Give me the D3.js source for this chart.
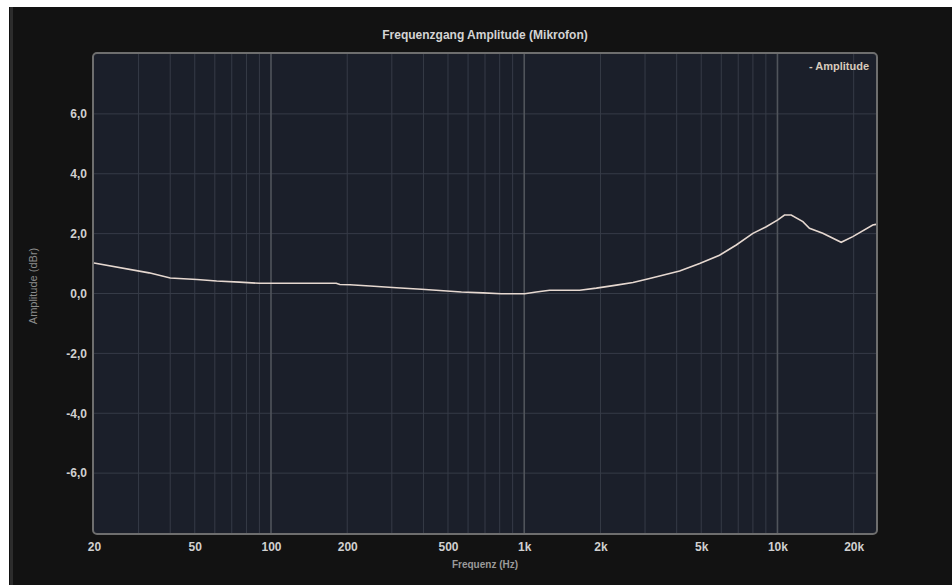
<!DOCTYPE html>
<html>
<head>
<meta charset="utf-8">
<script src="https://cdn.jsdelivr.net/npm/d3@7"></script>
<style>
  body { margin: 0; background: #fff; }
  text { font-family: "Liberation Sans", Arial, sans-serif; }
</style>
</head>
<body>
<div class="chart"></div>
<script>
// Frequency response
const freqs = [20, 33, 40, 51, 61, 75, 90, 181, 187, 205, 246, 313, 393, 464, 565, 688, 812,
  1004, 1116, 1260, 1656, 1926, 2312, 2688, 3128, 4108, 4928, 5905, 6875, 7998, 9030,
  10034, 10660, 11330, 12600, 13380, 15100, 17850, 19840, 23780, 24500]
const amps = [1.02, 0.69, 0.52, 0.47, 0.42, 0.38, 0.34, 0.34, 0.30, 0.29, 0.25, 0.19, 0.14, 0.10, 0.05, 0.02, -0.01,
  -0.01, 0.05, 0.11, 0.11, 0.18, 0.28, 0.37, 0.50, 0.75, 1.0, 1.28, 1.62, 2.01, 2.23,
  2.46, 2.62, 2.62, 2.40, 2.18, 2.01, 1.71, 1.90, 2.29, 2.31]

// Tick labels
const xTicks = [20, 50, 100, 200, 500, 1000, 2000, 5000, 10000, 20000]
const xTickLabels = ["20", "50", "100", "200", "500", "1k", "2k", "5k", "10k", "20k"]
const yTicks = [-6, -4, -2, 0, 2, 4, 6]
const majorX = [100, 1000, 10000]
const minorX = [30, 40, 50, 60, 70, 80, 90, 200, 300, 400, 500, 600, 700, 800, 900,
  2000, 3000, 4000, 5000, 6000, 7000, 8000, 9000, 20000]

const data = freqs.map((f, i) => ({f: f, a: amps[i]}))

const W = 952, H = 585
const margin = {top: 54, right: 76, bottom: 52, left: 94}
const width = W - margin.left - margin.right
const height = H - margin.top - margin.bottom

const xScale = d3.scaleLog()
  .domain([20, 24500])
  .range([0, width])

const yScale = d3.scaleLinear()
  .domain([-8, 8])
  .range([height, 0])

const svg = d3.select('.chart').append('svg')
  .attr("width", W)
  .attr("height", H)

// outer dark panel
svg.append("rect")
  .attr("x", 9).attr("y", 7)
  .attr("width", W - 9).attr("height", H - 7)
  .attr("fill", "#121212")
svg.append("line")
  .attr("x1", 11.5).attr("x2", 11.5)
  .attr("y1", 7).attr("y2", H)
  .attr("stroke", "#2c2c2c")
  .attr("stroke-width", 3)

// Title
svg.append("text")
  .attr("x", margin.left + width / 2)
  .attr("y", 39)
  .attr("text-anchor", "middle")
  .attr("font-size", 12)
  .attr("font-weight", "bold")
  .attr("fill", "#d4d4d4")
  .text("Frequenzgang Amplitude (Mikrofon)")

const g = svg.append("g")
  .attr("transform", `translate(${margin.left},${margin.top})`)

// plot background
g.append("rect")
  .attr("width", width)
  .attr("height", height)
  .attr("fill", "#1b1f2a")

// minor vertical grid
g.selectAll(".minor-x")
  .data(minorX)
  .enter()
  .append("line")
    .attr("x1", d => xScale(d)).attr("x2", d => xScale(d))
    .attr("y1", 0).attr("y2", height)
    .attr("stroke", "#363b47")
    .attr("stroke-width", 1)

// horizontal grid
g.selectAll(".grid-y")
  .data(yTicks)
  .enter()
  .append("line")
    .attr("x1", 0).attr("x2", width)
    .attr("y1", d => yScale(d)).attr("y2", d => yScale(d))
    .attr("stroke", "#363b47")
    .attr("stroke-width", 1)

// major vertical grid
g.selectAll(".major-x")
  .data(majorX)
  .enter()
  .append("line")
    .attr("x1", d => xScale(d)).attr("x2", d => xScale(d))
    .attr("y1", 0).attr("y2", height)
    .attr("stroke", "#50545b")
    .attr("stroke-width", 1.6)

// frame
g.append("rect")
  .attr("x", -1).attr("y", -1)
  .attr("width", width + 2)
  .attr("height", height + 2)
  .attr("rx", 4)
  .attr("fill", "none")
  .attr("stroke", "#6e6e6e")
  .attr("stroke-width", 2)

// Amplitude line
const line = d3.line()
  .x(d => xScale(d.f))
  .y(d => yScale(d.a))

g.append("path")
  .datum(data)
  .attr("d", line)
  .attr("fill", "none")
  .attr("stroke", "#e6d8d0")
  .attr("stroke-width", 1.6)

// Axes (labels only)
const xAxis = d3.axisBottom(xScale)
  .tickValues(xTicks)
  .tickFormat((d, i) => xTickLabels[i])
  .tickSize(0)
  .tickPadding(9)
const yAxis = d3.axisLeft(yScale)
  .tickValues(yTicks)
  .tickFormat(d => d3.format(".1f")(d).replace(".", ",").replace("−", "-"))
  .tickSize(0)
  .tickPadding(7)

const gx = g.append("g")
  .attr("transform", `translate(0, ${height})`)
  .call(xAxis)
const gy = g.append("g")
  .call(yAxis)

for (const ax of [gx, gy]) {
  ax.select(".domain").remove()
  ax.selectAll("text")
    .attr("fill", "#d0d0d0")
    .attr("font-size", 12)
    .attr("font-weight", "bold")
    .style("font-family", "'Liberation Sans', Arial, sans-serif")
}

// Axis titles
svg.append("text")
  .attr("x", margin.left + width / 2)
  .attr("y", 568)
  .attr("text-anchor", "middle")
  .attr("font-size", 10)
  .attr("font-weight", "bold")
  .attr("fill", "#9a9a9a")
  .text("Frequenz (Hz)")

svg.append("text")
  .attr("transform", "translate(37,286) rotate(-90)")
  .attr("text-anchor", "middle")
  .attr("font-size", 11)
  .attr("fill", "#8c8c8c")
  .text("Amplitude (dBr)")

// Legend
svg.append("text")
  .attr("x", 869)
  .attr("y", 70)
  .attr("text-anchor", "end")
  .attr("font-size", 11)
  .attr("font-weight", "bold")
  .attr("fill", "#d8cabb")
  .text("- Amplitude")
</script>
</body>
</html>
